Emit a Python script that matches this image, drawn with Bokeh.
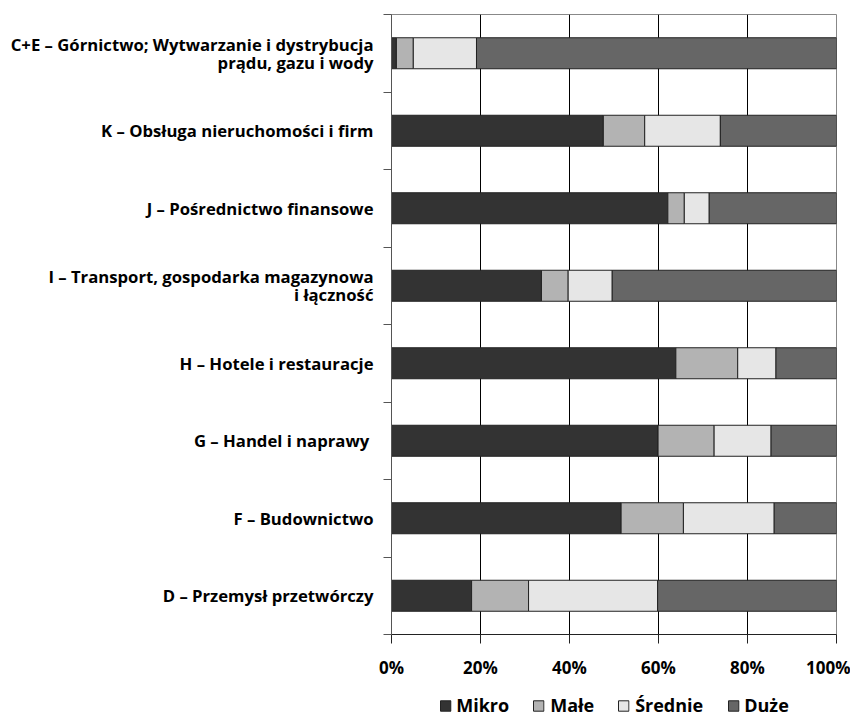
from bokeh.plotting import figure
from bokeh.layouts import column
from bokeh.models import ColumnDataSource, FixedTicker, NumeralTickFormatter, Legend, LegendItem, Range1d
from bokeh.embed import file_html
from bokeh.resources import INLINE

# Data (bottom to top)
sectors = [
    "D – Przemysł przetwórczy",
    "F – Budownictwo",
    "G –  Handel i naprawy",
    "H – Hotele i restauracje",
    "I – Transport, gospodarka magazynowa\ni łączność",
    "J – Pośrednictwo finansowe",
    "K – Obsługa nieruchomości i firm",
    "C+E – Górnictwo; Wytwarzanie i dystrybucja\nprądu, gazu i wody",
]
mikro   = [18.0, 51.6, 59.9, 63.9, 33.7, 62.1, 47.6, 1.1]
male    = [12.8, 14.0, 12.6, 13.9,  6.0,  3.7,  9.3, 3.8]
srednie = [29.0, 20.4, 12.8,  8.6,  9.9,  5.6, 17.0, 14.2]
duze    = [40.2, 14.0, 14.7, 13.6, 50.4, 28.6, 26.1, 80.9]
series_names = ["Mikro", "Małe", "Średnie", "Duże"]
series_colors = ["#333333", "#b3b3b3", "#e6e6e6", "#666666"]
x_ticks = [0, 0.2, 0.4, 0.6, 0.8, 1.0]

FONT = "Open Sans"

ypos = list(range(len(sectors)))
data = {"y": ypos}
for name, vals in zip(series_names, [mikro, male, srednie, duze]):
    data[name] = [v / 100.0 for v in vals]
source = ColumnDataSource(data)

p = figure(width=850, height=690, output_backend="svg", toolbar_location=None,
           x_range=Range1d(0, 1), y_range=Range1d(-0.5, len(sectors) - 0.5),
           min_border_left=391, min_border_right=14, min_border_top=14, min_border_bottom=56)

renderers = p.hbar_stack(series_names, y="y", height=0.4, source=source,
                         color=series_colors, line_color="#222222", line_width=1)

# axes
p.xaxis.ticker = FixedTicker(ticks=x_ticks)
p.xaxis.formatter = NumeralTickFormatter(format="0%")
p.xaxis.major_label_text_font = FONT
p.xaxis.major_label_text_font_style = "bold"
p.xaxis.major_label_text_font_size = "17px"
p.xaxis.major_label_text_color = "#000000"
p.xaxis.major_tick_out = 9
p.xaxis.major_tick_in = 0
p.xaxis.minor_tick_line_color = None
p.xaxis.axis_line_color = "#222222"
p.xaxis.major_tick_line_color = "#222222"
p.xaxis.major_label_standoff = 12

p.yaxis.ticker = FixedTicker(ticks=ypos, minor_ticks=[i - 0.5 for i in range(len(sectors) + 1)])
p.yaxis.major_label_overrides = {i: s for i, s in enumerate(sectors)}
p.yaxis.major_tick_line_color = None
p.yaxis.major_tick_out = 8
p.yaxis.minor_tick_out = 8
p.yaxis.minor_tick_in = 0
p.yaxis.minor_tick_line_color = "#555555"
p.yaxis.axis_line_color = "#555555"
p.yaxis.major_label_text_font = FONT
p.yaxis.major_label_text_font_style = "bold"
p.yaxis.major_label_text_font_size = "16.7px"
p.yaxis.major_label_text_line_height = 0.77
p.yaxis.major_label_text_color = "#000000"
p.yaxis.major_label_standoff = 10

p.xgrid.ticker = FixedTicker(ticks=x_ticks)
p.xgrid.grid_line_color = "#000000"
p.xgrid.grid_line_width = 1
p.ygrid.grid_line_color = None
p.outline_line_color = "#888888"
p.background_fill_color = "white"
p.border_fill_color = "white"

# legend strip below the chart (its glyphs lie outside its visible range)
lg = figure(width=850, height=30, output_backend="svg", toolbar_location=None,
            x_range=Range1d(0, 1), y_range=Range1d(100, 101),
            x_axis_location=None, y_axis_location=None,
            min_border_left=391, min_border_right=14, min_border_top=0, min_border_bottom=0)
lg.outline_line_color = None
lg.xgrid.grid_line_color = None
lg.ygrid.grid_line_color = None
leg_renderers = lg.hbar_stack(series_names, y="y", height=0.4, source=source,
                              color=series_colors, line_color="#222222", line_width=1)
legend = Legend(items=[LegendItem(label=n, renderers=[r]) for n, r in zip(series_names, leg_renderers)],
                orientation="horizontal", location="center",
                label_text_font=FONT, label_text_font_style="bold", label_text_font_size="18px",
                label_text_color="#000000",
                glyph_width=13, glyph_height=13, spacing=23, label_standoff=5, label_height=20,
                border_line_color=None, background_fill_alpha=0, padding=0, margin=0)
lg.add_layout(legend, "center")

layout = column(p, lg, spacing=0)
open("out.html", "w").write(file_html(layout, INLINE))
